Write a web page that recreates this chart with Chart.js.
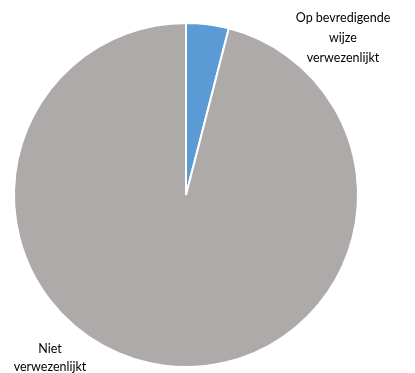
<!DOCTYPE html>
<html>
<head>
<meta charset="utf-8">
<script src="https://cdn.jsdelivr.net/npm/chart.js@4"></script>
<style>
  html, body { margin: 0; padding: 0; background: #fff; }
  #pie-chart { display: block; }
</style>
</head>
<body>
<canvas id="pie-chart" width="415" height="373"></canvas>
<script>
const categories = [['Op bevredigende', 'wijze', 'verwezenlijkt'], ['Niet', 'verwezenlijkt']];
const values = [4, 96];
const colors = ['#5B9BD5', '#AEAAAA'];

// labels drawn next to the slices, like the original
const labelPos = [
    { x: 343, y: 18, lh: 20 },
    { x: 50, y: 349, lh: 18 }
];

const outsideLabels = {
    id: 'outsideLabels',
    afterDraw(chart) {
        const ctx = chart.ctx;
        ctx.save();
        ctx.fillStyle = '#000';
        ctx.font = '12.5px Lato, sans-serif';
        ctx.textAlign = 'center';
        ctx.textBaseline = 'middle';
        categories.forEach((lines, i) => {
            const p = labelPos[i];
            lines.forEach((line, j) => {
                ctx.fillText(line, p.x, p.y + j * p.lh);
            });
        });
        ctx.restore();
    }
};

const chart = document.getElementById('pie-chart').getContext('2d');
const myChart = new Chart(chart, {
    type: 'pie',
    data: {
        labels: categories.map(c => c.join(' ')),
        datasets: [{
            data: values,
            backgroundColor: colors,
            borderColor: '#ffffff',
            borderWidth: 2,
        }]
    },
    options: {
        responsive: false,
        animation: false,
        layout: {
            padding: { top: 22, bottom: 5, left: 13, right: 56 }
        },
        plugins: {
            legend: { display: false },
            tooltip: { enabled: false }
        }
    },
    plugins: [outsideLabels]
});
</script>
</body>
</html>
